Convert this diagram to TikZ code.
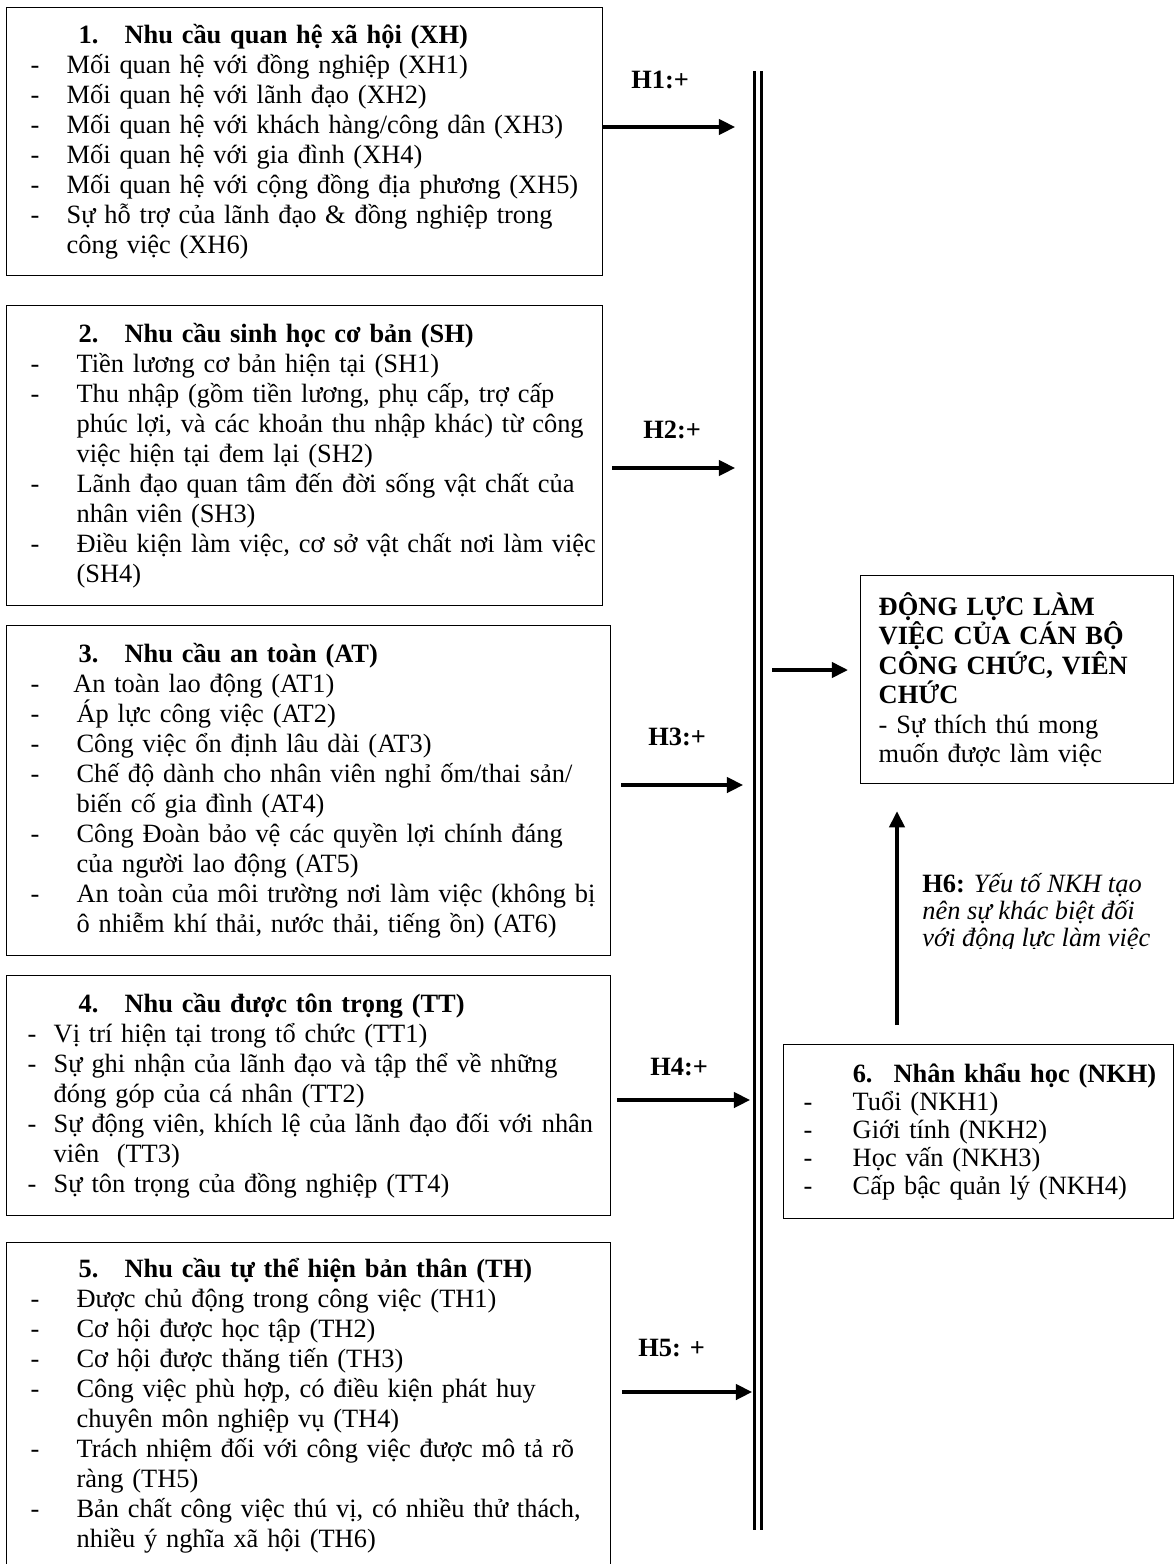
\documentclass[tikz,border=0pt]{standalone}
\usepackage{fontspec}
\setmainfont{Liberation Serif}
\usepackage{tikz}
\usetikzlibrary{arrows.meta}
\newlength{\dashin}
\newlength{\textin}
\newlength{\numin}
\newlength{\numwd}
\setlength{\numin}{32.7pt}
\setlength{\numwd}{20.9pt}
\newcommand{\boxtitle}[2]{\noindent\hspace*{\numin}\makebox[\numwd][l]{\textbf{#1}}\textbf{#2}\par}
\newcommand{\itm}[1]{\hangindent=\textin\hangafter=1\noindent\makebox[\textin][l]{\hspace*{\dashin}-}#1\par}
\tikzset{>/.tip={Triangle[length=7.3pt,width=7pt]},
  needbox/.style 2 args={draw, line width=0.6pt, anchor=north west, inner sep=0pt, align=left,
    font=\fontsize{12}{13.6}\selectfont,
    execute at begin node={\setlength{\dashin}{#1}\setlength{\textin}{#2}}},
  link/.style={->, line width=1.4pt},
  hyp/.style={anchor=west, inner sep=0pt, font=\fontsize{12}{13.6}\selectfont\bfseries}}

\begin{document}
\begin{tikzpicture}[x=0.4545pt, y=-0.4545pt]
\useasboundingbox (0,0) rectangle (1175,1564);
\node[needbox={10.9pt}{27.3pt}, text width=270.9pt, minimum height=121.8pt] (xh) at (6,7) {
\boxtitle{1.}{Nhu cầu quan hệ xã hội (XH)}
\itm{Mối quan hệ với đồng nghiệp (XH1)}
\itm{Mối quan hệ với lãnh đạo (XH2)}
\itm{Mối quan hệ với khách hàng/công dân (XH3)}
\itm{Mối quan hệ với gia đình (XH4)}
\itm{Mối quan hệ với cộng đồng địa phương (XH5)}
\itm{Sự hỗ trợ của lãnh đạo \& đồng nghiệp trong\newline công việc (XH6)}};
\node[needbox={10.9pt}{31.8pt}, text width=270.9pt, minimum height=136.4pt] (sh) at (6,305) {
\boxtitle{2.}{Nhu cầu sinh học cơ bản (SH)}
\itm{Tiền lương cơ bản hiện tại (SH1)}
\itm{Thu nhập (gồm tiền lương, phụ cấp, trợ cấp\newline phúc lợi, và các khoản thu nhập khác) từ công\newline việc hiện tại đem lại (SH2)}
\itm{Lãnh đạo quan tâm đến đời sống vật chất của\newline nhân viên (SH3)}
\itm{Điều kiện làm việc, cơ sở vật chất nơi làm việc\newline (SH4)}};
\node[needbox={10.9pt}{31.8pt}, text width=274.5pt, minimum height=150pt] (at) at (6,625) {
\boxtitle{3.}{Nhu cầu an toàn (AT)}
\itm{\hspace*{-1.5pt}An toàn lao động (AT1)}
\itm{Áp lực công việc (AT2)}
\itm{Công việc ổn định lâu dài (AT3)}
\itm{Chế độ dành cho nhân viên nghỉ ốm/thai sản/\newline biến cố gia đình (AT4)}
\itm{Công Đoàn bảo vệ các quyền lợi chính đáng\newline của người lao động (AT5)}
\itm{An toàn của môi trường nơi làm việc (không bị\newline ô nhiễm khí thải, nước thải, tiếng ồn) (AT6)}};
\node[needbox={9.5pt}{21.4pt}, text width=274.5pt, minimum height=109.1pt] (tt) at (6,975) {
\boxtitle{4.}{Nhu cầu được tôn trọng (TT)}
\itm{Vị trí hiện tại trong tổ chức (TT1)}
\itm{Sự ghi nhận của lãnh đạo và tập thể về những\newline đóng góp của cá nhân (TT2)}
\itm{Sự động viên, khích lệ của lãnh đạo đối với nhân\newline viên\ \ (TT3)}
\itm{Sự tôn trọng của đồng nghiệp (TT4)}};
\node[needbox={10.9pt}{31.8pt}, text width=274.5pt, minimum height=148.2pt] (th) at (6,1242) {
\boxtitle{5.}{Nhu cầu tự thể hiện bản thân (TH)}
\itm{Được chủ động trong công việc (TH1)}
\itm{Cơ hội được học tập (TH2)}
\itm{Cơ hội được thăng tiến (TH3)}
\itm{Công việc phù hợp, có điều kiện phát huy\newline chuyên môn nghiệp vụ (TH4)}
\itm{Trách nhiệm đối với công việc được mô tả rõ\newline ràng (TH5)}
\itm{Bản chất công việc thú vị, có nhiều thử thách,\newline nhiều ý nghĩa xã hội (TH6)}};
\node[needbox={0pt}{0pt}, text width=125.9pt, inner xsep=8.2pt, minimum height=94.5pt,
  font=\fontsize{12}{13.4}\selectfont] (goal) at (860,575) {\textbf{ĐỘNG LỰC LÀM}\\\textbf{VIỆC CỦA CÁN BỘ}\\\textbf{CÔNG CHỨC, VIÊN}\\\textbf{CHỨC}\\- Sự thích thú mong\\muốn được làm việc};
\node[needbox={9.1pt}{31.4pt}, text width=177.3pt, minimum height=79.1pt,
  font=\fontsize{12}{12.8}\selectfont] (nkh) at (783,1044) {\setlength{\numin}{31.4pt}\setlength{\numwd}{18.6pt}%
\boxtitle{6.}{Nhân khẩu học (NKH)}
\itm{Tuổi (NKH1)}
\itm{Giới tính (NKH2)}
\itm{Học vấn (NKH3)}
\itm{Cấp bậc quản lý (NKH4)}};
\node[hyp] (h1) at (631,80) {H1:+};
\node[hyp] (h2) at (643,430) {H2:+};
\node[hyp] (h3) at (648,737) {H3:+};
\node[hyp] (h4) at (650,1067) {H4:+};
\node[hyp] (h5) at (638,1348) {H5: +};
\begin{scope}
\clip (900,860) rectangle (1175,948);
\node[anchor=north west, inner sep=0pt, align=left, font=\fontsize{12}{12.3}\selectfont] (h6) at (922,873) {\textbf{H6:} \textit{Yếu tố NKH tạo}\\\textit{nên sự khác biệt đối}\\\textit{với động lực làm việc}};
\end{scope}
\coordinate (bartop) at (758,71);
\coordinate (barbot) at (758,1530);
\draw[double, line width=1.2pt, double distance=2.2pt] (bartop) to (barbot);
\coordinate (e1) at (735,127);
\coordinate (e2) at (735,468);
\coordinate (e3) at (743,785);
\coordinate (e4) at (750,1100);
\coordinate (e5) at (752,1392);
\draw[link] (xh.east |- e1) to (e1);
\draw[link, shorten <=4pt] (sh.east |- e2) to (e2);
\draw[link, shorten <=4.5pt] (at.east |- e3) to (e3);
\draw[link, shorten <=2.7pt] (tt.east |- e4) to (e4);
\draw[link, shorten <=5pt] (th.east |- e5) to (e5);
\coordinate (g0) at (772,670);
\draw[link, shorten >=5.5pt] (g0) to (goal.west |- g0);
\coordinate (u0) at (897,1025);
\draw[link, shorten <=8.6pt, shorten >=12.3pt] (nkh.north -| u0) to (goal.south -| u0);
\end{tikzpicture}
\end{document}
